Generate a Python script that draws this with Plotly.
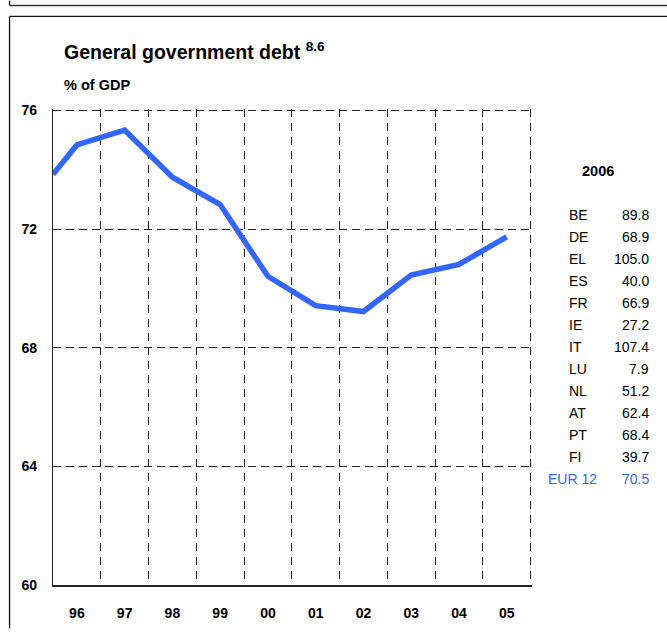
import plotly.graph_objects as go

# Year labels on the x axis and the series positions (-0.5 = end of 1995)
year_labels = ["96", "97", "98", "99", "00", "01", "02", "03", "04", "05"]
x_pos = [-0.5, 0, 1, 2, 3, 4, 5, 6, 7, 8, 9]
debt_pct_gdp = [73.85, 74.84, 75.34, 73.75, 72.83, 70.41, 69.42, 69.22, 70.45, 70.81, 71.74]

# 2006 country table
countries = ["BE", "DE", "EL", "ES", "FR", "IE", "IT", "LU", "NL", "AT", "PT", "FI", "EUR 12"]
debt_2006 = ["89.8", "68.9", "105.0", "40.0", "66.9", "27.2", "107.4", "7.9", "51.2", "62.4", "68.4", "39.7", "70.5"]

y_ticks = [60, 64, 68, 72, 76]

W, H = 667, 633
L, R, T, B = 52.5, 532, 108.5, 594  # plot area in pixels (range padded so edge grids show)


def px(x):
    return (x - L) / (R - L)


def py(y):
    return (B - y) / (B - T)


BLUE = "#3366ff"
FONT = "Liberation Sans, Arial, sans-serif"

fig = go.Figure()
fig.add_trace(go.Scatter(
    x=x_pos, y=debt_pct_gdp, mode="lines",
    line=dict(color=BLUE, width=5.5, shape="linear"),
    hoverinfo="skip", showlegend=False, cliponaxis=False,
))

fig.update_layout(
    width=W, height=H,
    margin=dict(l=L, r=W - R, t=T, b=H - B),
    paper_bgcolor="white", plot_bgcolor="white",
    font=dict(family=FONT, color="black"),
    showlegend=False,
    xaxis=dict(
        range=[-0.5, 9.53],
        tickmode="array", tickvals=list(range(len(year_labels))), ticktext=year_labels,
        ticks="", showgrid=False, zeroline=False,
        tickfont=dict(size=14, family=FONT, weight="bold"),
        ticklabelstandoff=14,
        showline=True, linecolor="#222", linewidth=1.5,
        minor=dict(
            tickmode="array",
            tickvals=[i + 0.5 for i in range(len(year_labels))],
            showgrid=True, gridcolor="#222", gridwidth=1, griddash="8px,6px",
            ticks="",
        ),
        fixedrange=True,
    ),
    yaxis=dict(
        range=[60, 76.05],
        tickmode="array", tickvals=y_ticks, ticktext=[str(v) for v in y_ticks],
        ticks="", zeroline=False,
        showgrid=True, gridcolor="#222", gridwidth=1, griddash="8px,5px",
        tickfont=dict(size=14, family=FONT, weight="bold"),
        ticklabelstandoff=12,
        showline=True, linecolor="#222", linewidth=1.2,
        fixedrange=True,
    ),
)

shapes = [
    # outer frame (bottom edge and left side)
    dict(type="line", xref="paper", yref="paper", x0=px(9), x1=px(W + 5), y0=py(3), y1=py(3),
         line=dict(color="#333", width=1.5)),
    dict(type="line", xref="paper", yref="paper", x0=px(9), x1=px(9), y0=py(-2), y1=py(3),
         line=dict(color="#333", width=1.5)),
    # inner frame (top edge and left side)
    dict(type="line", xref="paper", yref="paper", x0=px(9), x1=px(W + 5), y0=py(14), y1=py(14),
         line=dict(color="#111", width=1.3)),
    dict(type="line", xref="paper", yref="paper", x0=px(9), x1=px(9), y0=py(14), y1=py(H + 5),
         line=dict(color="#111", width=1.3)),
]
fig.update_layout(shapes=shapes)

ann = [
    dict(text="<b>General government debt <sup>8.6</sup></b>", x=px(62), y=py(49),
         xanchor="left", yanchor="middle", font=dict(size=19.5, family=FONT)),
    dict(text="<b>% of GDP</b>", x=px(62), y=py(84),
         xanchor="left", yanchor="middle", font=dict(size=14.5, family=FONT)),
    dict(text="<b>2006</b>", x=px(598), y=py(172),
         xanchor="center", yanchor="middle", font=dict(size=14.5, family=FONT)),
]
row0, step = 217, 22.4
for i, (c, v) in enumerate(zip(countries, debt_2006)):
    col = BLUE if c.startswith("EUR") else "black"
    y = py(row0 + i * step)
    x_code = 546 if c.startswith("EUR") else 567
    ann.append(dict(text=c, x=px(x_code), y=y, xanchor="left", yanchor="middle",
                    font=dict(size=14, family=FONT, color=col)))
    ann.append(dict(text=v, x=px(651), y=y, xanchor="right", yanchor="middle",
                    font=dict(size=14, family=FONT, color=col)))
for a in ann:
    a.update(xref="paper", yref="paper", showarrow=False)
fig.update_layout(annotations=ann)

fig.write_html("out.html", config={"displayModeBar": False})
